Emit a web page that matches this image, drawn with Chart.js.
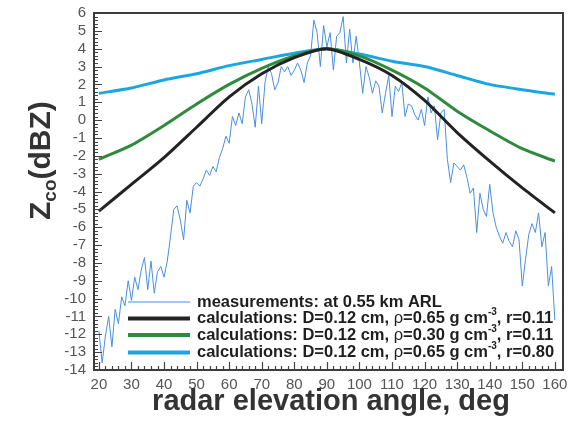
<!DOCTYPE html>
<html>
<head>
<meta charset="utf-8">
<script src="https://cdn.jsdelivr.net/npm/chart.js@4.4.1/dist/chart.umd.min.js"></script>
<style>
  html, body { margin: 0; padding: 0; background: #fff; }
  #wrap { width: 569px; height: 422px; }
</style>
</head>
<body>
<div id="wrap"><canvas id="myChart" width="569" height="422"></canvas></div>
<script>
// calculation nodes, every 10 deg
var calcAngles = [20, 30, 40, 50, 60, 70, 80, 90, 100, 110, 120, 130, 140, 150, 160];
var calcBlack  = [-5.1, -3.6, -2.1, -0.4, 1.3, 2.6, 3.5, 4.0, 3.4, 2.5, 1.1, -0.7, -2.3, -3.8, -5.2];
var calcGreen  = [-2.2, -1.4, -0.3, 0.9, 2.0, 2.9, 3.6, 4.0, 3.6, 2.8, 1.8, 0.5, -0.6, -1.6, -2.3];
var calcCyan   = [1.5, 1.8, 2.25, 2.6, 3.05, 3.4, 3.75, 4.0, 3.7, 3.3, 3.0, 2.5, 2.0, 1.7, 1.45];

// measurements at 0.55 km ARL, read every 1 deg from 20 to 160
var measAngles = [
  20, 21, 22, 23, 24, 25, 26, 27, 28, 29, 30, 31, 32, 33, 34, 35, 36, 37, 38, 39,
  40, 41, 42, 43, 44, 45, 46, 47, 48, 49, 50, 51, 52, 53, 54, 55, 56, 57, 58, 59,
  60, 61, 62, 63, 64, 65, 66, 67, 68, 69, 70, 71, 72, 73, 74, 75, 76, 77, 78, 79,
  80, 81, 82, 83, 84, 85, 86, 87, 88, 89, 90, 91, 92, 93, 94, 95, 96, 97, 98, 99,
  100, 101, 102, 103, 104, 105, 106, 107, 108, 109, 110, 111, 112, 113, 114, 115, 116, 117, 118, 119,
  120, 121, 122, 123, 124, 125, 126, 127, 128, 129, 130, 131, 132, 133, 134, 135, 136, 137, 138, 139,
  140, 141, 142, 143, 144, 145, 146, 147, 148, 149, 150, 151, 152, 153, 154, 155, 156, 157, 158, 159, 160
];
var measValues = [
  -11.8, -13.6, -12.1, -11.0, -12.7, -10.6, -11.4, -9.9, -10.4, -9.0,
  -10.1, -8.8, -9.5, -8.4, -7.7, -9.5, -7.9, -9.7, -8.5, -8.2,
  -8.8, -7.9, -6.5, -5.0, -4.8, -5.6, -6.7, -4.5, -5.2, -3.7,
  -3.5, -3.7, -3.3, -2.8, -3.1, -2.6, -2.9, -2.1, -1.6, -0.9,
  -1.3, 0.2, -0.3, 0.4, -0.2, 1.3, 1.7, 0.9, -0.4, 1.9,
  -0.2, 2.1, 3.0, 2.6, 1.7, 2.1, 3.0, 2.7, 3.0, 2.5,
  2.8, 3.2, 2.8, 2.1, 3.2, 3.6, 5.6, 4.9, 3.0, 5.3,
  4.1, 4.9, 2.8, 4.7, 4.9, 5.8, 3.2, 5.1, 3.2, 4.7,
  3.2, 1.5, 3.0, 2.4, 1.5, 2.2, 1.9, 0.4, 1.5, 2.5,
  0.2, 1.9, 1.6, 2.1, 0.2, 0.9, 0.8, 0.3, 0.0, 0.6,
  -0.3, 1.3, 0.4, 0.8, -1.1, 0.4, 0.6, -2.2, -3.5, -2.4,
  -2.6, -2.8, -2.5, -3.2, -4.1, -3.8, -6.3, -4.1, -5.0, -5.4,
  -3.6, -5.2, -6.0, -6.5, -6.9, -6.3, -6.8, -7.1, -6.2, -6.7,
  -9.3, -7.8, -6.4, -5.8, -6.3, -5.2, -7.1, -6.3, -9.3, -8.2, -11.2
];

var xTicks = [20, 30, 40, 50, 60, 70, 80, 90, 100, 110, 120, 130, 140, 150, 160];
var yTicks = [-14, -13, -12, -11, -10, -9, -8, -7, -6, -5, -4, -3, -2, -1, 0, 1, 2, 3, 4, 5, 6];

var legendRows = [
  { color: '#4a8fe0', width: 1, parts: ['measurements: at 0.55 km ARL'] },
  { color: '#232323', width: 4, parts: ['calculations: D=0.12 cm, ', 'ρ', '=0.65 g cm', '-3', ', r=0.11'] },
  { color: '#2f8a3c', width: 4, parts: ['calculations: D=0.12 cm, ', 'ρ', '=0.30 g cm', '-3', ', r=0.11'] },
  { color: '#1ba6e2', width: 4, parts: ['calculations: D=0.12 cm, ', 'ρ', '=0.65 g cm', '-3', ', r=0.80'] }
];

function toPoints(xs, ys) {
  return xs.map(function(x, i) { return { x: x, y: ys[i] }; });
}

var FONT = '"Liberation Sans", Arial, Helvetica, sans-serif';

var framePlugin = {
  id: 'frame',
  afterDraw: function(chart) {
    var ctx = chart.ctx, a = chart.chartArea;
    var xs = chart.scales.x, ys = chart.scales.y;
    ctx.save();
    ctx.strokeStyle = '#444';
    ctx.lineWidth = 1.2;
    ctx.beginPath();
    var i, p;
    for (i = 0; i <= 100; i++) {
      p = Math.round(ys.getPixelForValue(-14 + i * 0.2)) + 0.5;
      ctx.moveTo(a.left, p);
      ctx.lineTo(a.left + (i % 5 === 0 ? 8 : 4), p);
    }
    for (i = 0; i <= 70; i++) {
      p = Math.round(xs.getPixelForValue(20 + i * 2)) + 0.5;
      ctx.moveTo(p, a.bottom);
      ctx.lineTo(p, a.bottom - (i % 5 === 0 ? 8 : 4));
    }
    ctx.stroke();
    ctx.lineWidth = 2;
    ctx.strokeStyle = '#3c3c3c';
    ctx.strokeRect(a.left, a.top, a.right - a.left, a.bottom - a.top);

    // legend
    var lx0 = 128, lx1 = 190, tx = 197;
    var rowY = [302, 318.5, 335, 352.5];
    ctx.textBaseline = 'middle';
    legendRows.forEach(function(row, r) {
      ctx.strokeStyle = row.color;
      ctx.lineWidth = row.width;
      ctx.beginPath();
      ctx.moveTo(lx0, rowY[r]);
      ctx.lineTo(lx1, rowY[r]);
      ctx.stroke();
      var x = tx;
      ctx.fillStyle = '#1e1e1e';
      row.parts.forEach(function(t, k) {
        var dy = 0;
        if (t === '-3') { ctx.font = 'bold 10px ' + FONT; dy = -6; }
        else if (t === 'ρ') { ctx.font = '16.5px ' + FONT; }
        else { ctx.font = 'bold 16.5px ' + FONT; }
        ctx.fillText(t, x, rowY[r] + dy);
        x += ctx.measureText(t).width;
      });
    });

    // axis titles
    ctx.fillStyle = '#333';
    ctx.textBaseline = 'alphabetic';
    ctx.font = 'bold 29px ' + FONT;
    ctx.textAlign = 'center';
    ctx.fillText('radar elevation angle, deg', 331, 410);

    ctx.translate(50, 220);
    ctx.rotate(-Math.PI / 2);
    ctx.textAlign = 'left';
    ctx.font = 'bold 30px ' + FONT;
    ctx.fillText('Z', 0, 0);
    var w = ctx.measureText('Z').width;
    ctx.font = 'bold 19px ' + FONT;
    ctx.fillText('co', w, 6);
    w += ctx.measureText('co').width;
    ctx.font = 'bold 30px ' + FONT;
    ctx.fillText('(dBZ)', w, 0);
    ctx.restore();
  }
};

var ctx = document.getElementById('myChart');

var myChart = new Chart(ctx, {
  type: 'line',
  data: {
    datasets: [
      { label: 'calc r=0.11 rho=0.65', data: toPoints(calcAngles, calcBlack), borderColor: '#232323', borderWidth: 3, tension: 0.25, order: 1 },
      { label: 'calc r=0.11 rho=0.30', data: toPoints(calcAngles, calcGreen), borderColor: '#2f8a3c', borderWidth: 3, tension: 0.25, order: 2 },
      { label: 'calc r=0.80 rho=0.65', data: toPoints(calcAngles, calcCyan), borderColor: '#1ba6e2', borderWidth: 3, tension: 0.25, order: 3 },
      { label: 'measurements', data: toPoints(measAngles, measValues), borderColor: '#4a8fe0', borderWidth: 1, tension: 0, order: 4 }
    ]
  },
  options: {
    responsive: false,
    animation: false,
    devicePixelRatio: 1,
    layout: { padding: { left: 0, top: 13, right: 6, bottom: 0 } },
    elements: { point: { radius: 0 } },
    plugins: { legend: { display: false }, tooltip: { enabled: false } },
    scales: {
      x: {
        type: 'linear',
        min: 18.5,
        max: 162.5,
        grid: { display: false, drawTicks: false },
        border: { display: false },
        afterBuildTicks: function(scale) { scale.ticks = xTicks.map(function(v) { return { value: v }; }); },
        ticks: { padding: 6, color: '#555', font: { family: FONT, size: 15 }, maxRotation: 0, autoSkip: false },
        afterFit: function(scale) { scale.height = 52; scale.paddingLeft = 0; scale.paddingRight = 0; }
      },
      y: {
        min: -14,
        max: 6,
        grid: { display: false, drawTicks: false },
        border: { display: false },
        afterBuildTicks: function(scale) { scale.ticks = yTicks.map(function(v) { return { value: v }; }); },
        ticks: { padding: 8, color: '#555', font: { family: FONT, size: 15 }, autoSkip: false },
        afterFit: function(scale) { scale.width = 94; scale.paddingTop = 0; scale.paddingBottom = 0; }
      }
    }
  },
  plugins: [framePlugin]
});
</script>
</body>
</html>
